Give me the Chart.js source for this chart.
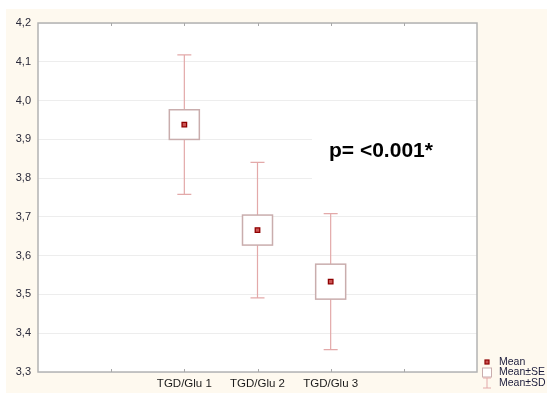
<!DOCTYPE html>
<html>
<head>
<meta charset="utf-8">
<script src="https://cdn.jsdelivr.net/npm/chart.js@4.4.1/dist/chart.umd.min.js"></script>
<style>
  html, body { margin: 0; padding: 0; background: #ffffff; }
  #wrap { width: 547px; height: 393px; position: relative; }
</style>
</head>
<body>
<div id="wrap"><canvas id="c" width="547" height="393"></canvas></div>
<script>
// Groups and their summary statistics
const groups = ['TGD/Glu 1', 'TGD/Glu 2', 'TGD/Glu 3'];
const means = [3.938, 3.666, 3.533];
const se = [0.0383, 0.0387, 0.0451];
const sd = [0.180, 0.1746, 0.1753];
const yTicks = [3.3, 3.4, 3.5, 3.6, 3.7, 3.8, 3.9, 4.0, 4.1, 4.2];
const legendItems = ['Mean', 'Mean\u00b1SE', 'Mean\u00b1SD'];
const pText = 'p= <0.001*';

// x axis: six equal intervals, groups sit on the inner ticks
const xLabels = ['', '', ...groups, '', ''];
const groupIndex = groups.map((g, i) => i + 2);

const BOX_COLOR = '#c9adad';
const WHISKER_COLOR = '#e3a9a9';

const backgroundPlugin = {
  id: 'pageBackground',
  beforeDraw(chart) {
    const { ctx, chartArea: a } = chart;
    ctx.save();
    ctx.fillStyle = '#ffffff';
    ctx.fillRect(0, 0, chart.width, chart.height);
    ctx.fillStyle = '#fef9ef';
    ctx.fillRect(6, 9, chart.width - 6, chart.height - 9);
    ctx.fillStyle = '#ffffff';
    ctx.fillRect(a.left, a.top, a.right - a.left, a.bottom - a.top);
    ctx.restore();
  }
};

const boxWhiskerPlugin = {
  id: 'boxWhisker',
  beforeDatasetsDraw(chart) {
    const { ctx, scales: { x, y }, chartArea: a } = chart;
    ctx.save();
    // white panel behind the p-value
    ctx.fillStyle = '#ffffff';
    ctx.fillRect(312, y.getPixelForValue(3.97), a.right - 312, y.getPixelForValue(3.76) - y.getPixelForValue(3.97));

    groupIndex.forEach((gi, i) => {
      const cx = x.getPixelForValue(gi);
      const m = means[i];
      const capHalf = 7;
      const boxHalf = 15;
      // whisker (mean ± SD)
      const yTop = y.getPixelForValue(m + sd[i]);
      const yBot = y.getPixelForValue(m - sd[i]);
      ctx.strokeStyle = WHISKER_COLOR;
      ctx.lineWidth = 1.2;
      ctx.beginPath();
      ctx.moveTo(cx, yTop); ctx.lineTo(cx, yBot);
      ctx.moveTo(cx - capHalf, yTop); ctx.lineTo(cx + capHalf, yTop);
      ctx.moveTo(cx - capHalf, yBot); ctx.lineTo(cx + capHalf, yBot);
      ctx.stroke();
      // box (mean ± SE)
      const bTop = y.getPixelForValue(m + se[i]);
      const bBot = y.getPixelForValue(m - se[i]);
      ctx.fillStyle = '#ffffff';
      ctx.fillRect(cx - boxHalf, bTop, boxHalf * 2, bBot - bTop);
      ctx.strokeStyle = BOX_COLOR;
      ctx.lineWidth = 1.5;
      ctx.strokeRect(cx - boxHalf, bTop, boxHalf * 2, bBot - bTop);
    });
    ctx.restore();
  },
  afterDraw(chart) {
    const { ctx, scales: { x }, chartArea: a } = chart;
    ctx.save();
    // frame and inward tick marks
    ctx.strokeStyle = '#b3b3b3';
    ctx.lineWidth = 1.5;
    ctx.strokeRect(a.left, a.top, a.right - a.left, a.bottom - a.top);
    ctx.lineWidth = 1;
    ctx.strokeStyle = '#a8a8a8';
    for (let i = 1; i < xLabels.length - 1; i++) {
      const px = Math.round(x.getPixelForValue(i)) + 0.5;
      ctx.beginPath();
      ctx.moveTo(px, a.top); ctx.lineTo(px, a.top + 3);
      ctx.moveTo(px, a.bottom); ctx.lineTo(px, a.bottom - 3);
      ctx.stroke();
    }

    // p-value annotation
    ctx.fillStyle = '#000000';
    ctx.font = 'bold 21px "Liberation Sans", Arial, sans-serif';
    ctx.textBaseline = 'alphabetic';
    ctx.fillText(pText, 329, 157);

    // legend
    const lx = 487, ly = [362, 372.5, 383];
    ctx.font = '10.5px "Liberation Sans", Arial, sans-serif';
    ctx.textBaseline = 'middle';
    // mean marker
    ctx.fillStyle = '#c85050';
    ctx.strokeStyle = '#8e0000';
    ctx.lineWidth = 1.2;
    ctx.fillRect(lx - 2, ly[0] - 2, 4, 4);
    ctx.strokeRect(lx - 2, ly[0] - 2, 4, 4);
    // SE box
    ctx.fillStyle = '#ffffff';
    ctx.strokeStyle = BOX_COLOR;
    ctx.lineWidth = 1;
    ctx.fillRect(lx - 4.5, ly[1] - 4.5, 9, 9);
    ctx.strokeRect(lx - 4.5, ly[1] - 4.5, 9, 9);
    // SD whisker
    ctx.strokeStyle = WHISKER_COLOR;
    ctx.beginPath();
    ctx.moveTo(lx, ly[2] - 5); ctx.lineTo(lx, ly[2] + 5);
    ctx.moveTo(lx - 4, ly[2] - 5); ctx.lineTo(lx + 4, ly[2] - 5);
    ctx.moveTo(lx - 4, ly[2] + 5); ctx.lineTo(lx + 4, ly[2] + 5);
    ctx.stroke();
    ctx.fillStyle = '#1c1c3c';
    legendItems.forEach((t, i) => ctx.fillText(t, 499, ly[i]));
    ctx.restore();
  }
};

new Chart(document.getElementById('c'), {
  type: 'scatter',
  data: {
    labels: xLabels,
    datasets: [{
      label: legendItems[0],
      data: groupIndex.map((gi, i) => ({ x: gi, y: means[i] })),
      pointStyle: 'rect',
      pointRadius: 3.2,
      pointHoverRadius: 3.2,
      backgroundColor: '#cc5555',
      borderColor: '#8e0000',
      borderWidth: 1.3
    }]
  },
  options: {
    responsive: false,
    animation: false,
    devicePixelRatio: 1,
    layout: { padding: { top: 23, right: 70, bottom: 0, left: 0 } },
    plugins: { legend: { display: false }, tooltip: { enabled: false } },
    scales: {
      x: {
        type: 'linear',
        min: 0,
        max: xLabels.length - 1,
        grid: { display: false, drawTicks: false },
        border: { display: false },
        afterFit(s) { s.height = 21; },
        afterBuildTicks(s) { s.ticks = xLabels.map((l, i) => ({ value: i })); },
        ticks: {
          autoSkip: false,
          maxRotation: 0,
          padding: 5,
          color: '#1a1a1a',
          font: { family: '"Liberation Sans", Arial, sans-serif', size: 11.5 },
          callback: (v) => xLabels[v] || ''
        }
      },
      y: {
        min: 3.3,
        max: 4.2,
        grid: { color: '#ededed', lineWidth: 1, drawTicks: false },
        border: { display: false },
        afterFit(s) { s.width = 38; },
        afterBuildTicks(s) { s.ticks = yTicks.map(v => ({ value: v })); },
        ticks: {
          padding: 7,
          color: '#2a2a3a',
          font: { family: '"Liberation Sans", Arial, sans-serif', size: 11 },
          callback: (v) => v.toFixed(1).replace('.', ',')
        }
      }
    }
  },
  plugins: [backgroundPlugin, boxWhiskerPlugin]
});
</script>
</body>
</html>
